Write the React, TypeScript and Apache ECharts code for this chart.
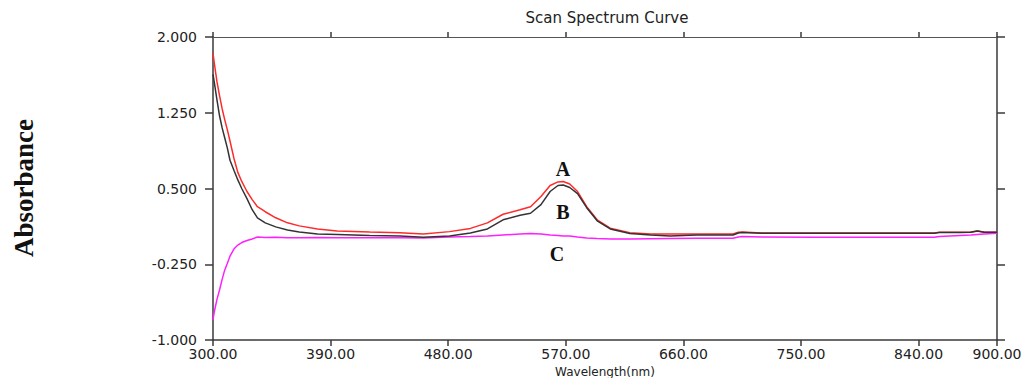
import React, { useEffect, useRef } from "react";
import * as echarts from "echarts";

// Wavelength sample points (nm)
const wavelengths = [
  300, 301, 303, 305, 307, 309, 311, 313, 316, 319, 322, 326, 330, 334, 340, 348, 357, 366, 380, 395,
  420, 443, 461, 481, 497, 510, 522, 535, 543, 551, 558, 564, 568, 573, 579, 586, 594, 604, 619, 635,
  650, 670, 698, 702, 705, 720, 760, 800, 852, 856, 872, 880, 885, 890, 900,
];

// Curve A (red)
const seriesA = [
  1.84, 1.74, 1.56, 1.42, 1.29, 1.18, 1.08, 0.97, 0.8, 0.66, 0.57, 0.47, 0.39, 0.32, 0.27, 0.21, 0.16, 0.13, 0.1, 0.08,
  0.07, 0.063, 0.05, 0.073, 0.105, 0.16, 0.245, 0.29, 0.32, 0.42, 0.53, 0.565, 0.57, 0.545, 0.47, 0.32, 0.19, 0.107, 0.063, 0.05,
  0.05, 0.05, 0.05, 0.068, 0.07, 0.06, 0.06, 0.06, 0.06, 0.068, 0.068, 0.07, 0.08, 0.07, 0.067,
];

// Curve B (black)
const seriesB = [
  1.63, 1.55, 1.38, 1.22, 1.1, 1.0, 0.9, 0.78, 0.68, 0.585, 0.5, 0.4, 0.29, 0.21, 0.16, 0.12, 0.09, 0.07, 0.05, 0.045,
  0.035, 0.03, 0.017, 0.03, 0.06, 0.1, 0.19, 0.235, 0.255, 0.34, 0.47, 0.53, 0.535, 0.51, 0.45, 0.31, 0.18, 0.1, 0.055, 0.04,
  0.03, 0.04, 0.04, 0.06, 0.065, 0.057, 0.057, 0.057, 0.057, 0.065, 0.065, 0.067, 0.08, 0.067, 0.067,
];

// Curve C (magenta)
const seriesC = [
  -0.8, -0.72, -0.6, -0.505, -0.4, -0.306, -0.24, -0.17, -0.1, -0.06, -0.035, -0.015, 0.0, 0.02, 0.015, 0.018, 0.012, 0.012, 0.015, 0.012,
  0.012, 0.012, 0.01, 0.02, 0.025, 0.03, 0.04, 0.05, 0.055, 0.05, 0.04, 0.035, 0.03, 0.03, 0.02, 0.01, 0.005, 0.0, 0.0, 0.003,
  0.005, 0.008, 0.008, 0.02, 0.025, 0.02, 0.018, 0.018, 0.018, 0.025, 0.035, 0.04, 0.045, 0.05, 0.057,
];

const xTickLabels = [300, 390, 480, 570, 660, 750, 840, 900];
const xTicks = [300, 390, 480, 570, 660, 750, 840, 900];
const yTicks = [-1, -0.25, 0.5, 1.25, 2];

const pairs = (ys: number[]) => wavelengths.map((w, i) => [w, ys[i]]);

export default function App() {
  const ref = useRef<HTMLDivElement>(null);
  useEffect(() => {
    if (!ref.current) return;
    const chart = echarts.init(ref.current, undefined, { renderer: "svg" });
    const axisLine = { show: true, onZero: false, lineStyle: { color: "#3a3a3a", width: 1.5 } };
    const labelFont = { fontFamily: "DejaVu Sans", fontSize: 14, color: "#222" };
    chart.setOption({
      animation: false,
      backgroundColor: "#ffffff",
      grid: { left: 213, right: 28, top: 37, bottom: 38, containLabel: false, outerBoundsMode: "none" },
      xAxis: [
        {
          type: "value",
          position: "bottom",
          min: 300,
          max: 900,
          name: "Wavelength(nm)",
          nameLocation: "middle",
          nameGap: 29,
          nameTextStyle: { fontFamily: "DejaVu Sans", fontSize: 12, color: "#222", verticalAlign: "middle" },
          axisLine,
          axisTick: { show: true, customValues: xTicks, length: 6, lineStyle: { color: "#3a3a3a", width: 1.5 } },
          axisLabel: {
            ...labelFont,
            customValues: xTickLabels,
            margin: 7,
            formatter: (v: number) => v.toFixed(2),
          },
          splitLine: { show: false },
        },
        {
          type: "value",
          position: "top",
          min: 300,
          max: 900,
          axisLine: { show: true, onZero: false, lineStyle: { color: "#555", width: 1.2 } },
          axisTick: { show: true, customValues: xTicks, length: 5, lineStyle: { color: "#3a3a3a", width: 1.5 } },
          axisLabel: { show: false },
          splitLine: { show: false },
        },
      ],
      yAxis: [
        {
          type: "value",
          position: "left",
          min: -1,
          max: 2,
          axisLine,
          axisTick: { show: true, customValues: yTicks, length: 8, lineStyle: { color: "#3a3a3a", width: 1.5 } },
          axisLabel: {
            ...labelFont,
            customValues: yTicks,
            margin: 16,
            formatter: (v: number) => v.toFixed(3),
          },
          splitLine: { show: false },
        },
        {
          type: "value",
          position: "right",
          min: -1,
          max: 2,
          axisLine,
          axisTick: { show: true, customValues: yTicks, length: 8, lineStyle: { color: "#3a3a3a", width: 1.5 } },
          axisLabel: { show: false },
          splitLine: { show: false },
        },
      ],
      series: [
        {
          name: "C",
          type: "line",
          data: pairs(seriesC),
          showSymbol: false,
          lineStyle: { color: "#ff20ff", width: 1.5 },
          z: 2,
        },
        {
          name: "A",
          type: "line",
          data: pairs(seriesA),
          showSymbol: false,
          lineStyle: { color: "#ff2a2a", width: 1.5 },
          z: 3,
        },
        {
          name: "B",
          type: "line",
          data: pairs(seriesB),
          showSymbol: false,
          lineStyle: { color: "#333333", width: 1.5 },
          z: 4,
        },
      ],
      graphic: [
        {
          type: "text",
          x: 607,
          y: 18,
          style: {
            text: "Scan Spectrum Curve",
            fontFamily: "DejaVu Sans",
            fontSize: 15,
            fill: "#222",
            align: "center",
            verticalAlign: "middle",
          },
        },
        {
          type: "text",
          x: 24,
          y: 188,
          rotation: Math.PI / 2,
          style: {
            text: "Absorbance",
            fontFamily: "Liberation Serif",
            fontWeight: "bold",
            fontSize: 27,
            fill: "#111",
            align: "center",
            verticalAlign: "middle",
          },
        },
        {
          type: "text",
          x: 563,
          y: 169,
          style: { text: "A", fontFamily: "Liberation Serif", fontWeight: "bold", fontSize: 20, fill: "#111", align: "center", verticalAlign: "middle" },
        },
        {
          type: "text",
          x: 563,
          y: 212,
          style: { text: "B", fontFamily: "Liberation Serif", fontWeight: "bold", fontSize: 20, fill: "#111", align: "center", verticalAlign: "middle" },
        },
        {
          type: "text",
          x: 557,
          y: 254,
          style: { text: "C", fontFamily: "Liberation Serif", fontWeight: "bold", fontSize: 20, fill: "#111", align: "center", verticalAlign: "middle" },
        },
      ],
    });
    return () => chart.dispose();
  }, []);
  return (
    <div
      ref={ref}
      style={{ position: "fixed", left: 0, top: 0, width: 1025, height: 378, background: "#fff" }}
    />
  );
}
